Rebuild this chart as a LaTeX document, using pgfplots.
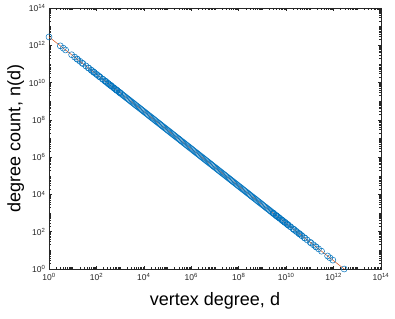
\documentclass[border=0pt]{standalone}
\usepackage{fontspec}
\setmainfont{Liberation Sans}
\usepackage{pgfplots}
\pgfplotsset{compat=1.18}
\usepackage{pgfplotstable}
\definecolor{mblue}{RGB}{0,114,189}
\definecolor{mred}{RGB}{217,83,25}
\definecolor{axgray}{RGB}{38,38,38}

% smallest degrees and their counts (the largest degrees mirror them)
\pgfplotstableread{
d n
1 2.79936e12
3 9.3312e11
4 6.9984e11
5 5.59872e11
9 3.1104e11
12 2.3328e11
15 1.86624e11
16 1.7496e11
20 1.39968e11
25 1.119744e11
27 1.0368e11
36 7.776e10
45 6.2208e10
48 5.832e10
60 4.6656e10
64 4.374e10
75 3.73248e10
80 3.4992e10
81 3.456e10
100 2.79936e10
108 2.592e10
125 2.239488e10
135 2.0736e10
144 1.944e10
180 1.5552e10
192 1.458e10
225 1.24416e10
240 1.1664e10
243 1.152e10
256 1.0935e10
300 9.3312e9
320 8.748e9
324 8.64e9
375 7.46496e9
400 6.9984e9
405 6.912e9
432 6.48e9
500 5.59872e9
540 5.184e9
576 4.86e9
625 4.478976e9
675 4.1472e9
720 3.888e9
729 3.84e9
768 3.645e9
900 3.1104e9
960 2.916e9
972 2.88e9
}\lowend

% dense middle of the band
\pgfplotstableread{
d n
1.000e3 2.800e9
1.122e3 2.496e9
1.259e3 2.224e9
1.413e3 1.982e9
1.585e3 1.767e9
1.778e3 1.575e9
1.995e3 1.404e9
2.239e3 1.251e9
2.512e3 1.115e9
2.818e3 0.9936e9
3.162e3 0.8855e9
3.548e3 0.7892e9
3.981e3 0.7033e9
4.467e3 0.6268e9
5.012e3 0.5587e9
5.623e3 0.4980e9
6.310e3 0.4437e9
7.079e3 0.3955e9
7.943e3 0.3525e9
8.913e3 0.3142e9
1.000e4 2.800e8
1.122e4 2.496e8
1.259e4 2.224e8
1.413e4 1.982e8
1.585e4 1.767e8
1.778e4 1.575e8
1.995e4 1.404e8
2.239e4 1.251e8
2.512e4 1.115e8
2.818e4 0.9936e8
3.162e4 0.8855e8
3.548e4 0.7892e8
3.981e4 0.7033e8
4.467e4 0.6268e8
5.012e4 0.5587e8
5.623e4 0.4980e8
6.310e4 0.4437e8
7.079e4 0.3955e8
7.943e4 0.3525e8
8.913e4 0.3142e8
1.000e5 2.800e7
1.122e5 2.496e7
1.259e5 2.224e7
1.413e5 1.982e7
1.585e5 1.767e7
1.778e5 1.575e7
1.995e5 1.404e7
2.239e5 1.251e7
2.512e5 1.115e7
2.818e5 0.9936e7
3.162e5 0.8855e7
3.548e5 0.7892e7
3.981e5 0.7033e7
4.467e5 0.6268e7
5.012e5 0.5587e7
5.623e5 0.4980e7
6.310e5 0.4437e7
7.079e5 0.3955e7
7.943e5 0.3525e7
8.913e5 0.3142e7
1.000e6 2.800e6
1.122e6 2.496e6
1.259e6 2.224e6
1.413e6 1.982e6
1.585e6 1.767e6
}\midband

\begin{document}
\begin{tikzpicture}
\begin{axis}[
  name=ax,
  scale only axis,
  width=332pt, height=261pt,
  xmode=log, ymode=log,
  xmin=1, xmax=1e14, ymin=1, ymax=1e14,
  axis line style={axgray, line width=0.5pt},
  tick style={axgray, line width=0.5pt},
  major tick length=3.3pt, minor tick length=2pt,
  tick align=inside,
  xtick={1,1e2,1e4,1e6,1e8,1e10,1e12,1e14},
  ytick={1,1e2,1e4,1e6,1e8,1e10,1e12,1e14},
  xticklabels={10\textsuperscript{0},10\textsuperscript{2},10\textsuperscript{4},10\textsuperscript{6},10\textsuperscript{8},10\textsuperscript{10},10\textsuperscript{12},10\textsuperscript{14}},
  yticklabels={10\textsuperscript{0},10\textsuperscript{2},10\textsuperscript{4},10\textsuperscript{6},10\textsuperscript{8},10\textsuperscript{10},10\textsuperscript{12},10\textsuperscript{14}},
  minor xtick={2,3,4,5,6,7,8,9,1e1,2e1,3e1,4e1,5e1,6e1,7e1,8e1,9e1,2e2,3e2,4e2,5e2,6e2,7e2,8e2,9e2,1e3,2e3,3e3,4e3,5e3,6e3,7e3,8e3,9e3,2e4,3e4,4e4,5e4,6e4,7e4,8e4,9e4,1e5,2e5,3e5,4e5,5e5,6e5,7e5,8e5,9e5,2e6,3e6,4e6,5e6,6e6,7e6,8e6,9e6,1e7,2e7,3e7,4e7,5e7,6e7,7e7,8e7,9e7,2e8,3e8,4e8,5e8,6e8,7e8,8e8,9e8,1e9,2e9,3e9,4e9,5e9,6e9,7e9,8e9,9e9,2e10,3e10,4e10,5e10,6e10,7e10,8e10,9e10,1e11,2e11,3e11,4e11,5e11,6e11,7e11,8e11,9e11,2e12,3e12,4e12,5e12,6e12,7e12,8e12,9e12,1e13,2e13,3e13,4e13,5e13,6e13,7e13,8e13,9e13},
  minor ytick={2,3,4,5,6,7,8,9,1e1,2e1,3e1,4e1,5e1,6e1,7e1,8e1,9e1,2e2,3e2,4e2,5e2,6e2,7e2,8e2,9e2,1e3,2e3,3e3,4e3,5e3,6e3,7e3,8e3,9e3,2e4,3e4,4e4,5e4,6e4,7e4,8e4,9e4,1e5,2e5,3e5,4e5,5e5,6e5,7e5,8e5,9e5,2e6,3e6,4e6,5e6,6e6,7e6,8e6,9e6,1e7,2e7,3e7,4e7,5e7,6e7,7e7,8e7,9e7,2e8,3e8,4e8,5e8,6e8,7e8,8e8,9e8,1e9,2e9,3e9,4e9,5e9,6e9,7e9,8e9,9e9,2e10,3e10,4e10,5e10,6e10,7e10,8e10,9e10,1e11,2e11,3e11,4e11,5e11,6e11,7e11,8e11,9e11,2e12,3e12,4e12,5e12,6e12,7e12,8e12,9e12,1e13,2e13,3e13,4e13,5e13,6e13,7e13,8e13,9e13},
  tick label style={font=\fontsize{8.5}{10}\selectfont, text=axgray},
  xticklabel style={yshift=-1pt},
  label style={font=\fontsize{18}{20}\selectfont},
  xlabel={vertex degree, d},
  ylabel={degree count, n(d)},
  xlabel style={at={(axis description cs:0.5,-0.123)}, anchor=center},
  ylabel style={at={(axis description cs:-0.1,0.5)}, anchor=center},
  clip=false,
]
\addplot[only marks, mark=o, mark size=3pt, mblue, mark options={line width=0.5pt}] table[x=d, y=n] {\lowend};
\addplot[only marks, mark=o, mark size=3pt, mblue, mark options={line width=0.5pt}] table[x=n, y=d] {\lowend};
\addplot[only marks, mark=o, mark size=3pt, mblue, mark options={line width=0.5pt}] table[x=d, y=n] {\midband};
\addplot[only marks, mark=o, mark size=3pt, mblue, mark options={line width=0.5pt}] table[x=n, y=d] {\midband};
\addplot[mred, line width=0.5pt] coordinates {(1,2.79936e12) (2.79936e12,1)};
\end{axis}
\pgfresetboundingbox
\path[use as bounding box] (ax.south west) ++(-49pt,-49pt) rectangle ++(395pt,318pt);
\end{tikzpicture}
\end{document}
